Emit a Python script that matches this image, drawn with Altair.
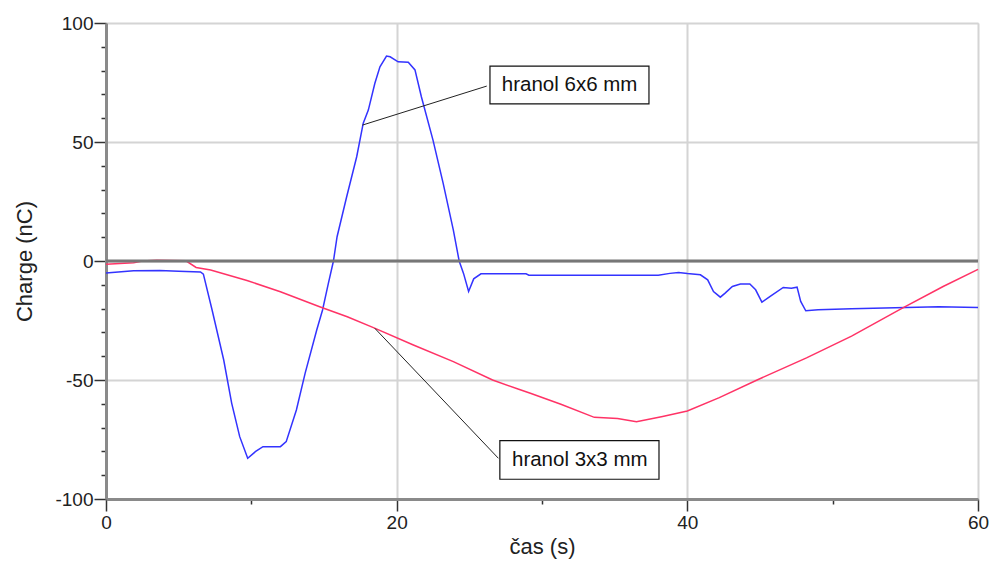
import altair as alt
import pandas as pd

# Blue series: hranol 6x6 mm
blue_t = [0, 1.9, 3.7, 5.0, 6.5, 6.7, 7.3, 8.1, 8.65, 9.2, 9.75, 10.3, 10.8, 12.0, 12.4,
          13.1, 13.7, 14.5, 14.9, 15.3, 15.65, 15.9, 16.56, 17.25, 17.7, 18.05, 18.5, 18.85,
          19.3, 19.55, 20.1, 20.8, 21.26, 21.7, 22.5, 23.2, 23.9, 24.3, 24.6, 24.95, 25.3,
          25.8, 28.9, 29.1, 38.0, 38.8, 39.4, 40.0, 40.9, 41.4, 41.8, 42.27, 42.6, 43.1,
          43.65, 44.3, 44.7, 45.13, 45.7, 46.6, 47.16, 47.55, 47.8, 48.15, 49.0, 51.3, 57.3, 60.0]
blue_q = [-5.0, -4.1, -4.0, -4.3, -4.6, -5.5, -20.6, -41.6, -59.8, -73.8, -82.9, -80.0, -78.0,
          -78.0, -75.9, -62.6, -47.2, -29.0, -20.6, -9.4, 0.0, 10.2, 27.0, 43.8, 57.9, 63.4,
          74.7, 81.6, 86.1, 85.8, 83.7, 83.5, 80.3, 69.0, 50.8, 32.6, 13.0, 0.0, -5.2, -12.8,
          -7.5, -5.4, -5.4, -6.0, -6.0, -5.2, -4.8, -5.3, -5.8, -7.9, -12.8, -15.2, -13.5,
          -10.7, -9.7, -9.7, -12.1, -17.3, -14.9, -11.1, -11.4, -11.0, -17.0, -20.9, -20.5,
          -20.1, -19.2, -19.5]

# Red series: hranol 3x3 mm
red_t = [0, 1.9, 2.5, 3.5, 5.5, 6.2, 7.2, 9.7, 12.0, 14.7, 16.6, 18.4, 21.15, 23.9, 26.6,
         28.4, 29.2, 31.3, 33.6, 35.2, 36.5, 38.3, 40.0, 42.2, 44.8, 48.2, 51.3, 54.7, 57.6, 60.0]
red_q = [-1.4, -0.7, 0.0, 0.3, 0.1, -2.7, -3.8, -8.2, -12.9, -19.2, -23.4, -28.0, -35.3, -42.3,
         -50.0, -53.9, -55.6, -60.2, -65.7, -66.2, -67.5, -65.3, -63.0, -57.4, -50.0, -40.7,
         -31.6, -20.1, -10.7, -3.5]

# Axis ticks
x_major = [0, 20, 40, 60]
x_minor = [10, 30, 50]
y_major = [-100, -50, 0, 50, 100]
y_minor = [-90, -80, -70, -60, -40, -30, -20, -10, 10, 20, 30, 40, 60, 70, 80, 90]

# Annotations (labels, leader lines and boxes in data units)
ann_label = ["hranol 6x6 mm", "hranol 3x3 mm"]
ann_tx = [31.9, 32.6]
ann_ty = [73.9, -83.6]
ann_px = [17.64, 18.5]     # point on curve
ann_py = [57.1, -28.3]
ann_lx = [26.2, 27.0]      # leader end at box
ann_ly = [73.5, -82.9]
box_x1 = [26.42, 27.10]
box_x2 = [37.36, 38.05]
box_y1 = [81.9, -75.5]
box_y2 = [66.0, -91.7]

FONT = "Liberation Sans"

df = pd.DataFrame({
    "t": blue_t + red_t,
    "q": blue_q + red_q,
    "series": ["hranol 6x6 mm"] * len(blue_t) + ["hranol 3x3 mm"] * len(red_t),
})
ann = pd.DataFrame({
    "label": ann_label, "tx": ann_tx, "ty": ann_ty, "px": ann_px, "py": ann_py,
    "lx": ann_lx, "ly": ann_ly, "bx1": box_x1, "bx2": box_x2, "by1": box_y1, "by2": box_y2,
})
minor_df = pd.DataFrame({"t": [0, 60], "q": [-100, 100]})

xs = alt.Scale(domain=[0, 60], nice=False, zero=False)
ys = alt.Scale(domain=[-100, 100], nice=False, zero=False)

minor_x_axis = alt.Axis(values=x_minor, labels=False, grid=False, domain=False, ticks=True,
                        tickSize=5, tickColor="#333", tickWidth=1.5, title=None, orient="bottom")
minor_y_axis = alt.Axis(values=y_minor, labels=False, grid=False, domain=False, ticks=True,
                        tickSize=5, tickColor="#333", tickWidth=1.5, title=None, orient="left")

minor = alt.Chart(minor_df).mark_point(opacity=0).encode(
    x=alt.X("t:Q", scale=xs, axis=minor_x_axis),
    y=alt.Y("q:Q", scale=ys, axis=minor_y_axis),
)

major_x_axis = alt.Axis(values=x_major, grid=True, gridColor="#d4d4d4", gridWidth=2,
                        domainColor="#8a8a8a", domainWidth=3, tickColor="#333", tickWidth=1.5,
                        tickSize=12, labelFontSize=19, labelFont=FONT, labelColor="#222",
                        labelPadding=2, labelExpr="toString(datum.value)",
                        title="čas (s)", titleFont=FONT, titleFontSize=22,
                        titleFontWeight="normal", titleColor="#222", titlePadding=4,
                        orient="bottom", labelFlush=False)
major_y_axis = alt.Axis(values=y_major, grid=True, gridColor="#d4d4d4", gridWidth=2,
                        domainColor="#8a8a8a", domainWidth=3, tickColor="#333", tickWidth=1.5,
                        tickSize=12, labelFontSize=19, labelFont=FONT, labelColor="#222",
                        labelPadding=1, labelExpr="toString(datum.value)",
                        title="Charge (nC)", titleFont=FONT, titleFontSize=22,
                        titleFontWeight="normal", titleColor="#222", titlePadding=18,
                        orient="left", labelFlush=False)

lines = alt.Chart(df).mark_line(strokeWidth=1.5, interpolate="linear").encode(
    x=alt.X("t:Q", scale=xs, axis=major_x_axis),
    y=alt.Y("q:Q", scale=ys, axis=major_y_axis),
    color=alt.Color("series:N",
                    scale=alt.Scale(domain=["hranol 6x6 mm", "hranol 3x3 mm"],
                                    range=["#3333ff", "#ff3366"]),
                    legend=None),
    order=alt.Order("t:Q"),
)

zero = alt.Chart(minor_df).mark_rule(color="#777", strokeWidth=3).encode(
    y=alt.Y("z:Q", scale=ys, axis=None),
).transform_calculate(z="0").transform_filter("datum.t == 0")

leaders = alt.Chart(ann).mark_rule(color="#222", strokeWidth=1).encode(
    x=alt.X("px:Q", scale=xs, axis=None), y=alt.Y("py:Q", scale=ys, axis=None),
    x2="lx:Q", y2="ly:Q",
)
boxes = alt.Chart(ann).mark_rect(fill="white", stroke="#111", strokeWidth=1.2).encode(
    x=alt.X("bx1:Q", scale=xs, axis=None), x2="bx2:Q",
    y=alt.Y("by1:Q", scale=ys, axis=None), y2="by2:Q",
)
texts = alt.Chart(ann).mark_text(font=FONT, fontSize=20.5, color="#111",
                                 align="center", baseline="middle").encode(
    x=alt.X("tx:Q", scale=xs, axis=None), y=alt.Y("ty:Q", scale=ys, axis=None),
    text="label:N",
)

chart = alt.layer(minor, lines, zero, leaders, boxes, texts).resolve_axis(
    x="independent", y="independent"
).properties(
    width=872, height=476,
    padding={"left": 106, "top": 23, "right": 13, "bottom": 63},
    autosize=alt.AutoSizeParams(type="none"),
).configure_view(stroke="#999", strokeWidth=2).configure(background="white")

chart.save("out.html", embed_options={"renderer": "svg", "actions": False})
